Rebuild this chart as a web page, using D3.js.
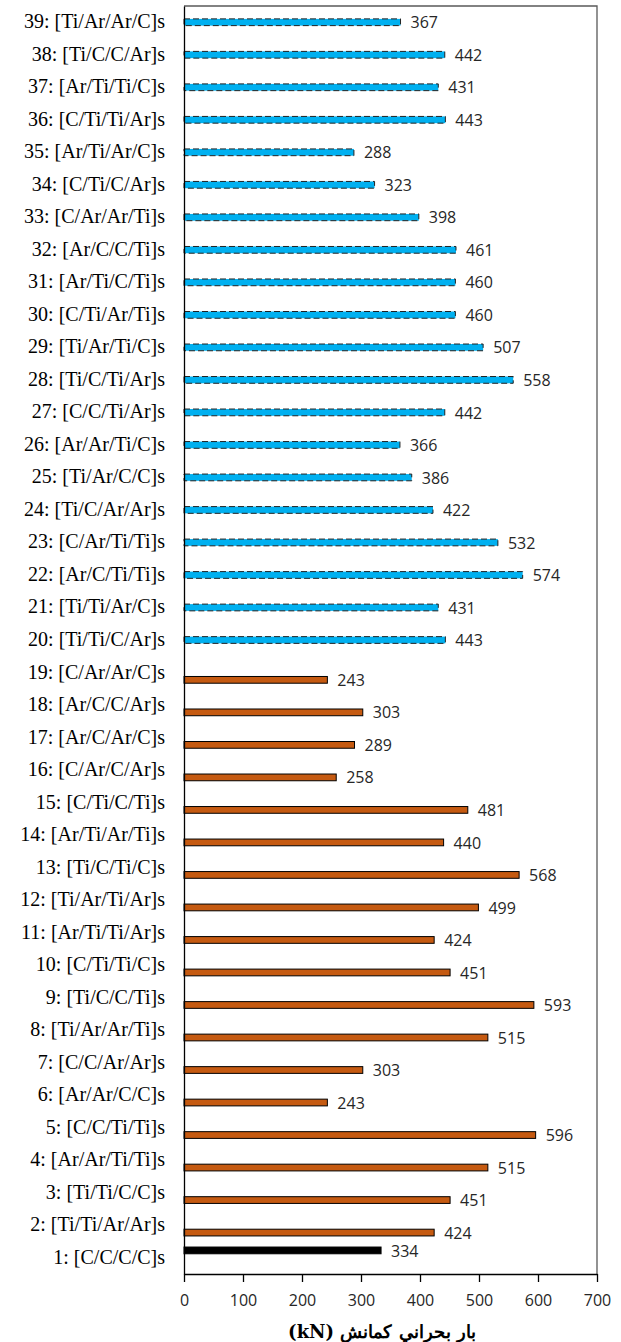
<!DOCTYPE html>
<html>
<head>
<meta charset="utf-8">
<script src="https://cdn.jsdelivr.net/npm/d3@7"></script>
<style>
  html, body { margin: 0; padding: 0; background: #fff; }
  svg { display: block; }
</style>
</head>
<body>
<svg id="chart" width="621" height="1342"></svg>
<script>
const categories = [
  "1: [C/C/C/C]s", "2: [Ti/Ti/Ar/Ar]s", "3: [Ti/Ti/C/C]s", "4: [Ar/Ar/Ti/Ti]s",
  "5: [C/C/Ti/Ti]s", "6: [Ar/Ar/C/C]s", "7: [C/C/Ar/Ar]s", "8: [Ti/Ar/Ar/Ti]s",
  "9: [Ti/C/C/Ti]s", "10: [C/Ti/Ti/C]s", "11: [Ar/Ti/Ti/Ar]s", "12: [Ti/Ar/Ti/Ar]s",
  "13: [Ti/C/Ti/C]s", "14: [Ar/Ti/Ar/Ti]s", "15: [C/Ti/C/Ti]s", "16: [C/Ar/C/Ar]s",
  "17: [Ar/C/Ar/C]s", "18: [Ar/C/C/Ar]s", "19: [C/Ar/Ar/C]s", "20: [Ti/Ti/C/Ar]s",
  "21: [Ti/Ti/Ar/C]s", "22: [Ar/C/Ti/Ti]s", "23: [C/Ar/Ti/Ti]s", "24: [Ti/C/Ar/Ar]s",
  "25: [Ti/Ar/C/C]s", "26: [Ar/Ar/Ti/C]s", "27: [C/C/Ti/Ar]s", "28: [Ti/C/Ti/Ar]s",
  "29: [Ti/Ar/Ti/C]s", "30: [C/Ti/Ar/Ti]s", "31: [Ar/Ti/C/Ti]s", "32: [Ar/C/C/Ti]s",
  "33: [C/Ar/Ar/Ti]s", "34: [C/Ti/C/Ar]s", "35: [Ar/Ti/Ar/C]s", "36: [C/Ti/Ti/Ar]s",
  "37: [Ar/Ti/Ti/C]s", "38: [Ti/C/C/Ar]s", "39: [Ti/Ar/Ar/C]s"
];
const values = [
  334, 424, 451, 515, 596, 243, 303, 515, 593, 451,
  424, 499, 568, 440, 481, 258, 289, 303, 243, 443,
  431, 574, 532, 422, 386, 366, 442, 558, 507, 460,
  460, 461, 398, 323, 288, 443, 431, 442, 367
];
// series each bar belongs to: "ref" = reference laminate, "two" = two-material, "three" = three-material
const seriesNames = ["ref", "three", "two"];   // top-to-bottom slot order inside a category
const groups = [
  "ref", "two", "two", "two", "two", "two", "two", "two", "two", "two",
  "two", "two", "two", "two", "two", "two", "two", "two", "two", "three",
  "three", "three", "three", "three", "three", "three", "three", "three", "three", "three",
  "three", "three", "three", "three", "three", "three", "three", "three", "three"
];
const xTicks = [0, 100, 200, 300, 400, 500, 600, 700];
const xTitle = "بار بحراني كمانش (kN)";

const data = categories.map((c, i) => ({ cat: c, value: values[i], group: groups[i] }));

const svg = d3.select("#chart");
const mLeft = 184, mRight = 597, mTop = 6, mBottom = 1274;

const x = d3.scaleLinear().domain([0, 700]).range([mLeft, mRight]);
const y = d3.scaleBand()
  .domain(categories.slice().reverse())
  .range([mTop, mBottom])
  .paddingInner(0.323)
  .paddingOuter(0.1615);
const ySub = d3.scaleBand()
  .domain(seriesNames)
  .range([0, y.bandwidth()]);

// plot frame (top and right)
svg.append("path")
  .attr("d", `M${mLeft},${mTop}H${mRight}V${mBottom}`)
  .attr("fill", "none")
  .attr("stroke", "#595959")
  .attr("stroke-width", 1.3);

const fills = { ref: "#000000", two: "#C55A11", three: "#00B0F0" };

const inset = 0.3;
svg.append("g").selectAll("rect")
  .data(data)
  .join("rect")
  .attr("x", x(0))
  .attr("y", d => y(d.cat) + ySub(d.group) + inset)
  .attr("width", d => x(d.value) - x(0))
  .attr("height", ySub.bandwidth() - 2 * inset)
  .attr("fill", d => fills[d.group])
  .attr("stroke", d => d.group === "three" ? "#222" : "#000")
  .attr("stroke-width", 1)
  .attr("stroke-dasharray", d => d.group === "three" ? "6,3" : null);

// value labels
svg.append("g").selectAll("text")
  .data(data)
  .join("text")
  .attr("x", d => x(d.value) + 10)
  .attr("y", d => y(d.cat) + ySub(d.group) + ySub.bandwidth() / 2 + 0.5)
  .attr("dy", "0.35em")
  .attr("font-family", "'Open Sans', 'Liberation Sans', sans-serif")
  .attr("font-size", 16)
  .attr("fill", "#262626")
  .text(d => d.value);

// y axis
const yAxis = d3.axisLeft(y).tickSize(0).tickPadding(19);
const gy = svg.append("g").attr("transform", `translate(${mLeft},0)`).call(yAxis);
gy.select(".domain").attr("stroke", "#000").attr("stroke-width", 1.3);
gy.selectAll("text")
  .attr("font-family", "'Liberation Serif', 'Times New Roman', serif")
  .attr("font-size", 20)
  .attr("dy", "0.3em")
  .attr("fill", "#000");

// x axis
const xAxis = d3.axisBottom(x).tickValues(xTicks).tickSize(8).tickSizeOuter(0).tickPadding(13);
const gx = svg.append("g").attr("transform", `translate(0,${mBottom})`).call(xAxis);
gx.select(".domain").attr("stroke", "#000").attr("stroke-width", 1.3);
gx.selectAll(".tick line").attr("stroke", "#000").attr("stroke-width", 1.3);
gx.selectAll("text")
  .attr("font-family", "'Open Sans', 'Liberation Sans', sans-serif")
  .attr("font-size", 16)
  .attr("fill", "#262626");

// x title
svg.append("text")
  .attr("x", 382)
  .attr("y", 1338)
  .attr("text-anchor", "middle")
  .attr("direction", "rtl")
  .attr("font-family", "'DejaVu Serif', 'Liberation Serif', serif")
  .attr("font-weight", "bold")
  .attr("font-size", 18)
  .attr("fill", "#000")
  .text(xTitle);
</script>
</body>
</html>
